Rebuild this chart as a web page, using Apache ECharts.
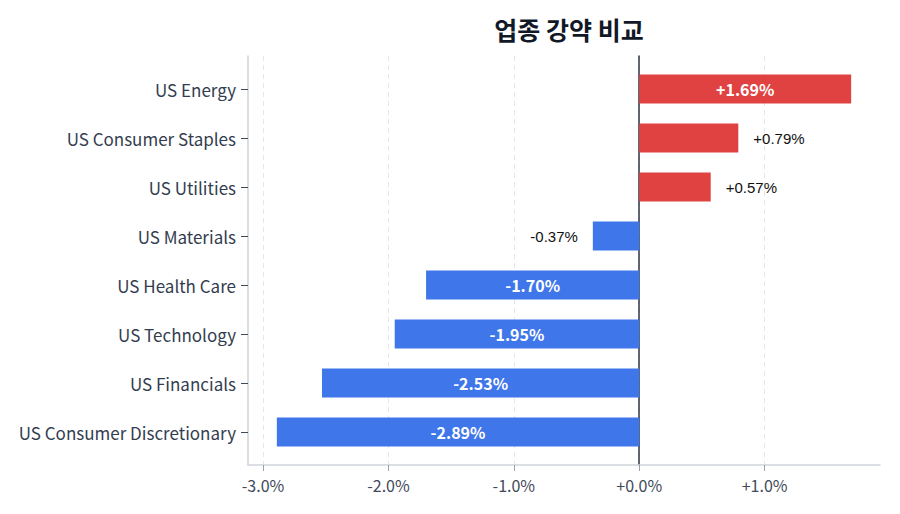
<!DOCTYPE html>
<html>
<head>
<meta charset="utf-8">
<script src="https://cdn.jsdelivr.net/npm/echarts@6/dist/echarts.min.js"></script>
<style>
  html, body { margin: 0; padding: 0; background: #fff; }
  #chart { width: 900px; height: 514px; }
</style>
</head>
<body>
<div id="chart"></div>
<script>
var sectors = ['US Energy', 'US Consumer Staples', 'US Utilities', 'US Materials',
  'US Health Care', 'US Technology', 'US Financials', 'US Consumer Discretionary'];
var changes = [1.69, 0.79, 0.57, -0.37, -1.70, -1.95, -2.53, -2.89];
var tickValues = [-3, -2, -1, 0, 1];

var up = '#E04242';
var down = '#3F77EA';
var font = '"Noto Sans CJK KR", "Noto Sans", sans-serif';
var xMin = -3.12, xMax = 1.92;

function fmt(v, d) { return (v >= 0 ? '+' : '') + v.toFixed(d) + '%'; }

var chart = echarts.init(document.getElementById('chart'), null, { renderer: 'svg' });
chart.setOption({
  animation: false,
  title: {
    text: '업종 강약 비교', left: 564, top: 11, textAlign: 'center',
    textStyle: { fontFamily: font, fontSize: 25, fontWeight: 'bold', color: '#111827' }
  },
  grid: [
    { left: 248, right: 20, top: 56, bottom: 49 },
    { left: 248, right: 20, top: 64.5, bottom: 57.5 }
  ],
  xAxis: [
    { type: 'value', gridIndex: 0, min: xMin, max: xMax,
      axisLine: { show: true, onZero: false, lineStyle: { color: '#cfd4db', width: 1.5 } },
      axisTick: { show: true, customValues: tickValues, length: 6, lineStyle: { color: '#9aa3ad' } },
      axisLabel: { customValues: tickValues, margin: 12, color: '#3f4a5a', fontSize: 16, fontFamily: font,
        formatter: function(v) { return fmt(v, 1); } },
      splitLine: { show: true, lineStyle: { color: '#e3e6ea', type: [5, 4] } } },
    { type: 'value', gridIndex: 1, min: xMin, max: xMax, show: false }
  ],
  yAxis: [
    { type: 'value', gridIndex: 0, min: 0, max: 1,
      axisLine: { show: true, onZero: true, lineStyle: { color: '#2b3444', width: 1.5 } },
      axisTick: { show: false }, axisLabel: { show: false }, splitLine: { show: false } },
    { type: 'value', gridIndex: 0, min: 0, max: 1, position: 'left',
      axisLine: { show: true, onZero: false, lineStyle: { color: '#cfd4db', width: 1.5 } },
      axisTick: { show: false }, axisLabel: { show: false }, splitLine: { show: false } },
    { type: 'category', gridIndex: 1, data: sectors, inverse: true,
      axisLine: { show: false, onZero: false },
      axisTick: { show: true, alignWithLabel: true, length: 7, lineStyle: { color: '#3f4a5a' } },
      axisLabel: { color: '#333d4f', fontSize: 17, fontFamily: font, margin: 12 } }
  ],
  series: [{
    type: 'bar', xAxisIndex: 1, yAxisIndex: 2, barWidth: 29,
    data: changes.map(function(v) {
      var big = Math.abs(v) >= 1;
      return {
        value: v,
        itemStyle: { color: v >= 0 ? up : down },
        label: big ? {
          show: true, position: 'inside', color: '#fff', fontSize: 16, fontWeight: 'bold', fontFamily: font
        } : {
          show: true, position: v >= 0 ? 'right' : 'left', distance: 15, color: '#111',
          fontSize: 15, fontFamily: '"Liberation Sans", Arial, sans-serif'
        }
      };
    }),
    label: { formatter: function(p) { return fmt(p.value, 2); } }
  }]
});
</script>
</body>
</html>
